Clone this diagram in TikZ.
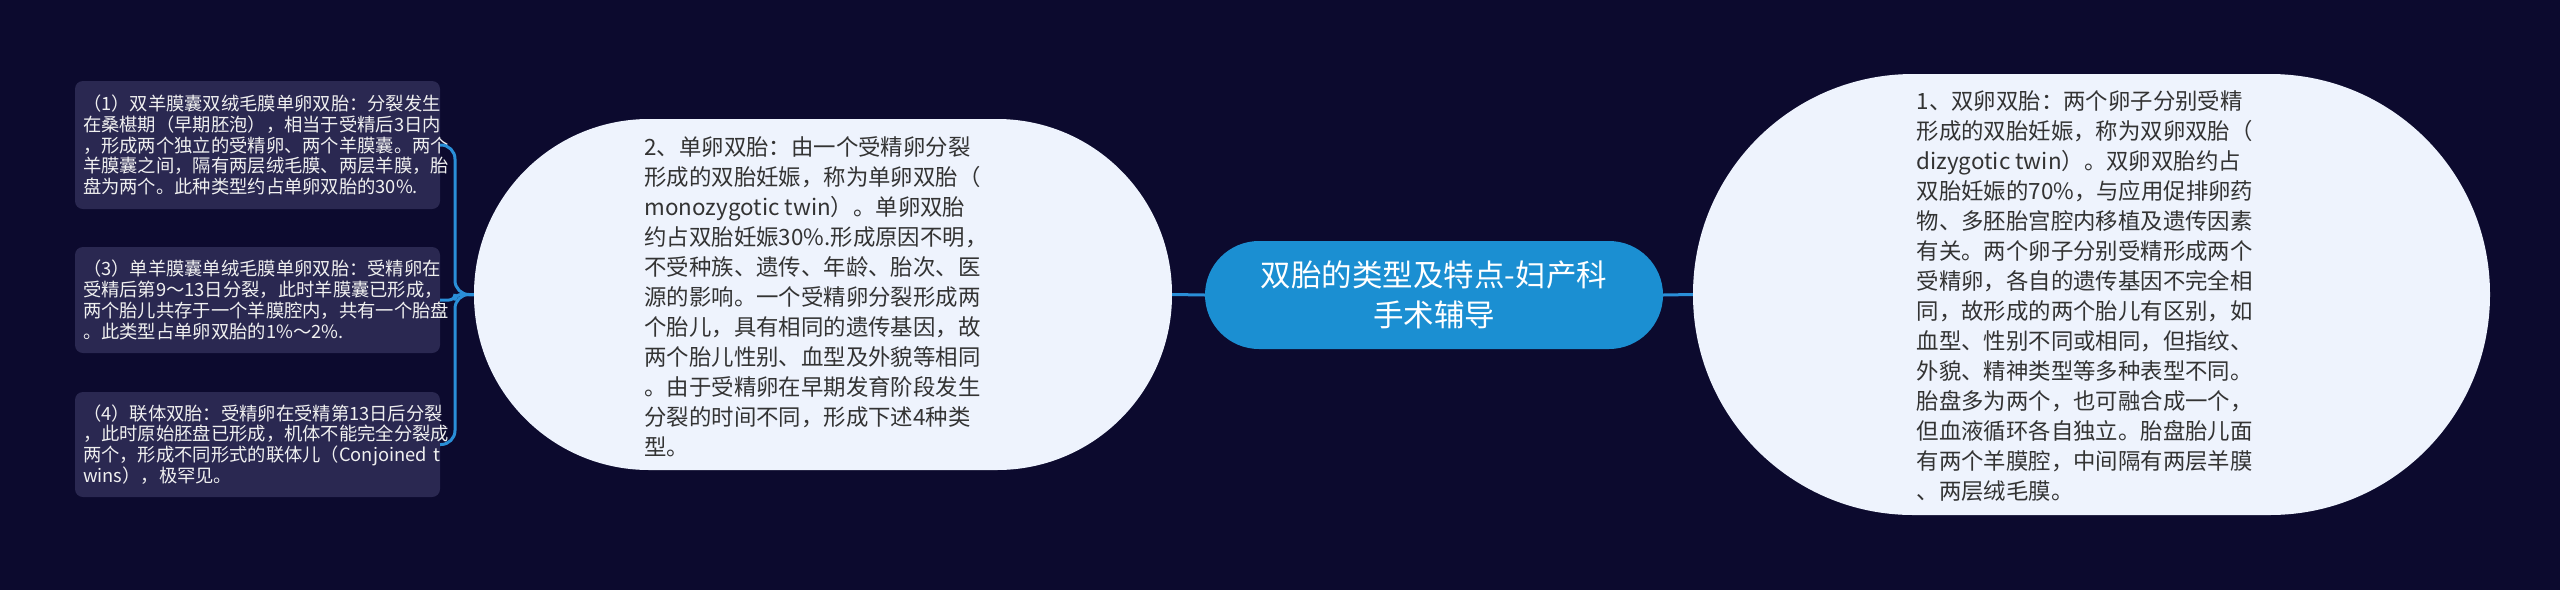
\documentclass[tikz,border=0pt]{standalone}
\usepackage{fontspec}
\setmainfont{Noto Sans CJK SC}
\definecolor{bgc}{HTML}{0C0A2E}
\definecolor{boxc}{HTML}{2A2851}
\definecolor{nodec}{HTML}{EEF3FD}
\definecolor{rootc}{HTML}{1B8FD2}
\definecolor{linec}{HTML}{2A8FD8}
\definecolor{txtc}{HTML}{333333}
\begin{document}
\begin{tikzpicture}[x=1pt,y=-1pt,
  conn/.style={draw=linec,line width=3pt},
  bignode/.style={fill=nodec,draw=none,inner sep=0pt},
  bigtext/.style={text=txtc,align=left,inner sep=0pt,font=\fontsize{22.4pt}{30pt}\selectfont},
  smallbox/.style={fill=boxc,draw=none,rounded corners=8pt,minimum width=365pt,text width=349pt,inner xsep=8pt,inner ysep=0pt,align=left,text=white!94!black,font=\fontsize{18.3pt}{20.8pt}\selectfont},
  rootnode/.style={fill=rootc,draw=none,rounded corners=54pt,minimum width=458pt,minimum height=108pt,align=center,text=white,font=\fontsize{30.5pt}{40pt}\selectfont}
]
\useasboundingbox (0,0) rectangle (2560,590);
\fill[bgc] (0,0) rectangle (2560,590);

% root
\node[rootnode] (C) at (1434,295) {双胎的类型及特点-妇产科\\手术辅导};

% left big node
\node[bignode,rounded corners=175pt,minimum width=698pt,minimum height=351pt] (L) at (823,294.5) {};
\node[bigtext] (Lt) at (816,297) {2、单卵双胎：由一个受精卵分裂\\
形成的双胎妊娠，称为单卵双胎（\\
monozygotic twin）。单卵双胎\\
约占双胎妊娠30\%.形成原因不明，\\
不受种族、遗传、年龄、胎次、医\\
源的影响。一个受精卵分裂形成两\\
个胎儿，具有相同的遗传基因，故\\
两个胎儿性别、血型及外貌等相同\\
。由于受精卵在早期发育阶段发生\\
分裂的时间不同，形成下述4种类\\
型。};

% right big node
\node[bignode,rounded corners=220pt,minimum width=797pt,minimum height=441pt] (R) at (2091.5,294.5) {};
\node[bigtext] (Rt) at (2085,296.5) {1、双卵双胎：两个卵子分别受精\\
形成的双胎妊娠，称为双卵双胎（\\
dizygotic twin）。双卵双胎约占\\
双胎妊娠的70\%，与应用促排卵药\\
物、多胚胎宫腔内移植及遗传因素\\
有关。两个卵子分别受精形成两个\\
受精卵，各自的遗传基因不完全相\\
同，故形成的两个胎儿有区别，如\\
血型、性别不同或相同，但指纹、\\
外貌、精神类型等多种表型不同。\\
胎盘多为两个，也可融合成一个，\\
但血液循环各自独立。胎盘胎儿面\\
有两个羊膜腔，中间隔有两层羊膜\\
、两层绒毛膜。};

% small boxes
\node[smallbox,minimum height=128pt] (b1) at (257.5,145) {\mbox{（1）双羊膜囊双绒毛膜单卵双胎：分裂发生}\\
\mbox{在桑椹期（早期胚泡），相当于受精后3日内}\\
\mbox{，形成两个独立的受精卵、两个羊膜囊。两个}\\
\mbox{羊膜囊之间，隔有两层绒毛膜、两层羊膜，胎}\\
\mbox{盘为两个。此种类型约占单卵双胎的30\%.}};
\node[smallbox,minimum height=106pt] (b2) at (257.5,300) {\mbox{（3）单羊膜囊单绒毛膜单卵双胎：受精卵在}\\
\mbox{受精后第9～13日分裂，此时羊膜囊已形成，}\\
\mbox{两个胎儿共存于一个羊膜腔内，共有一个胎盘}\\
\mbox{。此类型占单卵双胎的1\%～2\%.}};
\node[smallbox,minimum height=105pt] (b3) at (257.5,444.5) {\mbox{（4）联体双胎：受精卵在受精第13日后分裂}\\
\mbox{，此时原始胚盘已形成，机体不能完全分裂成}\\
\mbox{两个，形成不同形式的联体儿（Conjoined t}\\
\mbox{wins），极罕见。}};

% connectors
\coordinate (j) at (455,294.5);
\draw[conn] (L.east) -- (C.west);
\draw[conn] (C.east) -- (R.west);
\draw[conn,rounded corners=14pt] (L.west) -- (j) |- (b1.east);
\draw[conn,rounded corners=6pt] (L.west) -- (j) |- (b2.east);
\draw[conn,rounded corners=14pt] (L.west) -- (j) |- (b3.east);
\end{tikzpicture}
\end{document}
